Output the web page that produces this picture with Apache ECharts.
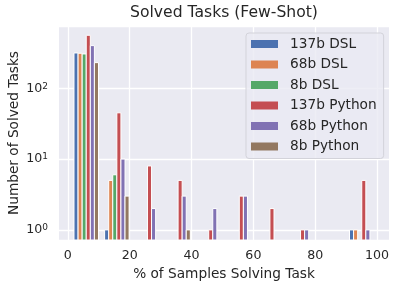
<!DOCTYPE html>
<html><head><meta charset="utf-8">
<script src="https://cdn.jsdelivr.net/npm/echarts@6/dist/echarts.min.js"></script>
<style>html,body{margin:0;padding:0;background:#fff}#c{width:398px;height:288px}</style>
</head><body><div id="c"></div>
<script>
// ---- data ----
const seriesNames = ['137b DSL', '68b DSL', '8b DSL', '137b Python', '68b Python', '8b Python'];
const seriesColors = ['#4C72B0', '#DD8452', '#55A868', '#C44E52', '#8172B3', '#937860'];
const binLefts = [1, 10.9, 20.8, 30.7, 40.6, 50.5, 60.4, 70.3, 80.2, 90.1];
const binWidth = 9.9;
const dsl137 = [315, 1, 0, 0, 0, 0, 0, 0, 0, 1];
const dsl68  = [312, 5, 0, 0, 0, 0, 0, 0, 0, 1];
const dsl8   = [305, 6, 0, 0, 0, 0, 0, 0, 0, 0];
const py137  = [560, 45, 8, 5, 1, 3, 2, 1, 0, 5];
const py68   = [400, 10, 2, 3, 2, 3, 0, 1, 0, 1];
const py8    = [230, 3, 0, 1, 0, 0, 0, 0, 0, 0];
const xTickValues = [0, 20, 40, 60, 80, 100];
const X_MIN = -2.86, X_MAX = 103.86;
const Y_MIN = 0.72, Y_MAX = 757;

const allValues = [dsl137, dsl68, dsl8, py137, py68, py8];
const FONT = 'DejaVu Sans';
const TXT = '#262626';

function makeRender(idx) {
  return function (params, api) {
    const x = api.value(0), v = api.value(1);
    if (!(v > 0)) return null;
    const bw = binWidth * 0.8 / seriesNames.length;
    const x0 = x + binWidth * 0.1 + idx * bw;
    const p1 = api.coord([x0, v]);
    const p2 = api.coord([x0 + bw, Y_MIN]);
    return {
      type: 'rect',
      shape: { x: p1[0], y: p1[1], width: p2[0] - p1[0], height: p2[1] - p1[1] },
      style: { fill: api.visual('color'), stroke: '#ffffff', lineWidth: 1 }
    };
  };
}

const series = seriesNames.map((name, i) => ({
  name: name,
  type: 'custom',
  renderItem: makeRender(i),
  itemStyle: { color: seriesColors[i] },
  encode: { x: 0, y: 1 },
  clip: true,
  data: binLefts.map((b, j) => [b, allValues[i][j]]).filter(d => d[1] > 0)
}));

const chart = echarts.init(document.getElementById('c'), null, { renderer: 'canvas' });
chart.setOption({
  animation: false,
  backgroundColor: '#ffffff',
  title: {
    text: 'Solved Tasks (Few-Shot)',
    left: 224, top: 5, textAlign: 'center', padding: 0,
    textStyle: { fontFamily: FONT, fontSize: 15.6, fontWeight: 'normal', color: TXT }
  },
  grid: { left: 59, right: 9, top: 26, bottom: 48, show: true, backgroundColor: '#EAEAF2', borderWidth: 0, outerBoundsMode: 'none', containLabel: false },
  legend: {
    orient: 'vertical', left: 246, top: 33,
    icon: 'rect', itemWidth: 27, itemHeight: 8, itemGap: 6.5,
    padding: [4, 7, 5, 5],
    backgroundColor: 'rgba(234,234,242,0.8)', borderColor: '#d3d3da', borderWidth: 1, borderRadius: 3,
    textStyle: { fontFamily: FONT, fontSize: 13.7, color: TXT, lineHeight: 14, padding: [0, 0, 0, 7] },
    data: seriesNames
  },
  xAxis: {
    type: 'value', min: X_MIN, max: X_MAX, splitNumber: 5,
    name: '% of Samples Solving Task', nameLocation: 'middle', nameGap: 27, nameMoveOverlap: false,
    nameTextStyle: { fontFamily: FONT, fontSize: 13.7, color: TXT },
    axisLine: { show: false }, axisTick: { show: false, customValues: xTickValues },
    axisLabel: { customValues: xTickValues, margin: 9, fontFamily: FONT, fontSize: 12.6, color: TXT },
    splitLine: { show: true, customValues: xTickValues, lineStyle: { color: '#ffffff', width: 1.3 } }
  },
  yAxis: {
    type: 'log', logBase: 10, min: Y_MIN, max: Y_MAX,
    name: 'Number of Solved Tasks', nameLocation: 'middle', nameGap: 38, nameMoveOverlap: false,
    nameTextStyle: { fontFamily: FONT, fontSize: 13.7, color: TXT },
    axisLine: { show: false }, axisTick: { show: false },
    axisLabel: {
      margin: 11, fontFamily: FONT, fontSize: 12.6, color: TXT,
      showMinLabel: false, showMaxLabel: false,
      formatter: function (v) {
        const e = Math.log10(v), r = Math.round(e);
        if (Math.abs(e - r) > 1e-6) return '';
        return '10{s|' + r + '}';
      },
      rich: { s: { fontFamily: FONT, fontSize: 9, color: TXT, verticalAlign: 'top', lineHeight: 9 } }
    },
    splitLine: { show: true, lineStyle: { color: '#ffffff', width: 1.3 } },
    minorSplitLine: { show: false }
  },
  series: series
});
</script>
</body></html>
